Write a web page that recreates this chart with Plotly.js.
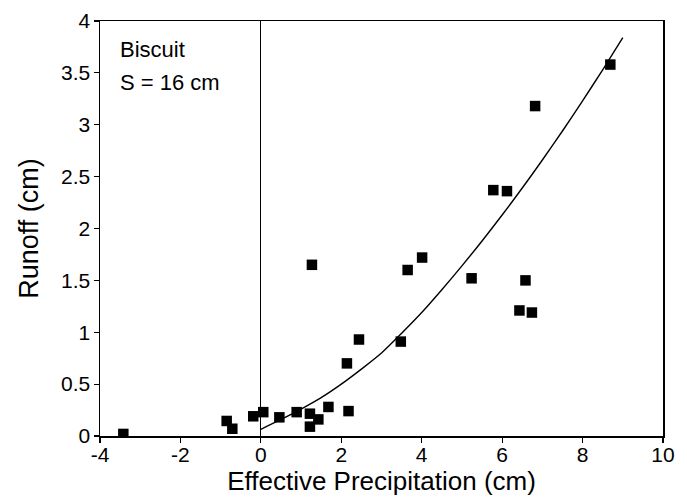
<!DOCTYPE html>
<html>
<head>
<meta charset="utf-8">
<script src="https://cdn.plot.ly/plotly-3.0.1.min.js"></script>
<style>html,body{margin:0;padding:0;background:#fff}#chart{width:687px;height:497px}</style>
</head>
<body>
<div id="chart"></div>
<script>
// Observed points
const precip = [-3.42, -0.85, -0.71, -0.19, 0.06, 0.46, 0.89, 1.22, 1.22, 1.43, 1.68, 1.27, 2.14, 2.18, 2.44, 3.48, 3.65, 4.01, 5.24, 6.58, 6.43, 6.74, 5.78, 6.12, 6.82, 8.69];
const runoff = [0.02, 0.145, 0.07, 0.19, 0.23, 0.18, 0.23, 0.215, 0.09, 0.16, 0.28, 1.65, 0.70, 0.24, 0.93, 0.91, 1.60, 1.72, 1.52, 1.50, 1.21, 1.19, 2.37, 2.36, 3.18, 3.58];
// Fitted curve
const curveX = [0, 0.5, 1, 1.5, 2, 2.5, 3, 3.5, 4, 4.5, 5, 5.5, 6, 6.5, 7, 7.5, 8, 8.5, 9];
const curveY = [0.065, 0.16, 0.26, 0.37, 0.50, 0.645, 0.80, 0.99, 1.19, 1.41, 1.64, 1.88, 2.13, 2.39, 2.66, 2.94, 3.23, 3.53, 3.84];
// Ticks
const xTicks = [-4, -2, 0, 2, 4, 6, 8, 10];
const yTicks = [0, 0.5, 1, 1.5, 2, 2.5, 3, 3.5, 4];
const yTickText = ['0', '0.5', '1', '1.5', '2', '2.5', '3', '3.5', '4'];
// Label text
const labelLines = ['Biscuit', 'S = 16 cm'];

const FONT = 'Liberation Sans, Arial, Helvetica, sans-serif';

const traces = [
  {x: curveX, y: curveY, mode: 'lines', line: {color: '#000', width: 1.4, shape: 'spline', smoothing: 0.8}, hoverinfo: 'skip'},
  {x: precip, y: runoff, mode: 'markers', marker: {symbol: 'square', size: 10.5, color: '#000'}}
];

const layout = {
  width: 687, height: 497,
  margin: {l: 100, r: 24, t: 21, b: 61},
  paper_bgcolor: '#fff', plot_bgcolor: '#fff',
  showlegend: false,
  font: {family: FONT, color: '#000'},
  xaxis: {
    range: [-4, 10], tickvals: xTicks, ticktext: xTicks.map(String),
    showgrid: false, zeroline: true, zerolinecolor: '#000', zerolinewidth: 1.2,
    showline: true, linecolor: '#000', linewidth: 1.5, mirror: true,
    ticks: 'outside', ticklen: 5, tickwidth: 1.2, tickcolor: '#000',
    ticklabelstandoff: -6,
    tickfont: {size: 21, family: FONT, color: '#000'},
    title: {text: 'Effective Precipitation (cm)', font: {size: 26, family: FONT, color: '#000'}, standoff: 4}
  },
  yaxis: {
    range: [0, 4], tickvals: yTicks, ticktext: yTickText,
    showgrid: false, zeroline: false,
    showline: true, linecolor: '#000', linewidth: 1.5, mirror: true,
    ticks: 'outside', ticklen: 5, tickwidth: 1.2, tickcolor: '#000',
    ticklabelstandoff: -1,
    tickfont: {size: 21, family: FONT, color: '#000'},
    title: {text: 'Runoff (cm)', font: {size: 27, family: FONT, color: '#000'}, standoff: 14}
  },
  annotations: [
    {text: labelLines[0], xref: 'paper', yref: 'paper', x: 0.032, y: 0.9325,
     xanchor: 'left', yanchor: 'middle', align: 'left', showarrow: false,
     font: {size: 22, family: FONT, color: '#000'}},
    {text: labelLines[1], xref: 'paper', yref: 'paper', x: 0.032, y: 0.852,
     xanchor: 'left', yanchor: 'middle', align: 'left', showarrow: false,
     font: {size: 22, family: FONT, color: '#000'}}
  ]
};

Plotly.newPlot('chart', traces, layout, {displayModeBar: false, staticPlot: true});
</script>
</body>
</html>
